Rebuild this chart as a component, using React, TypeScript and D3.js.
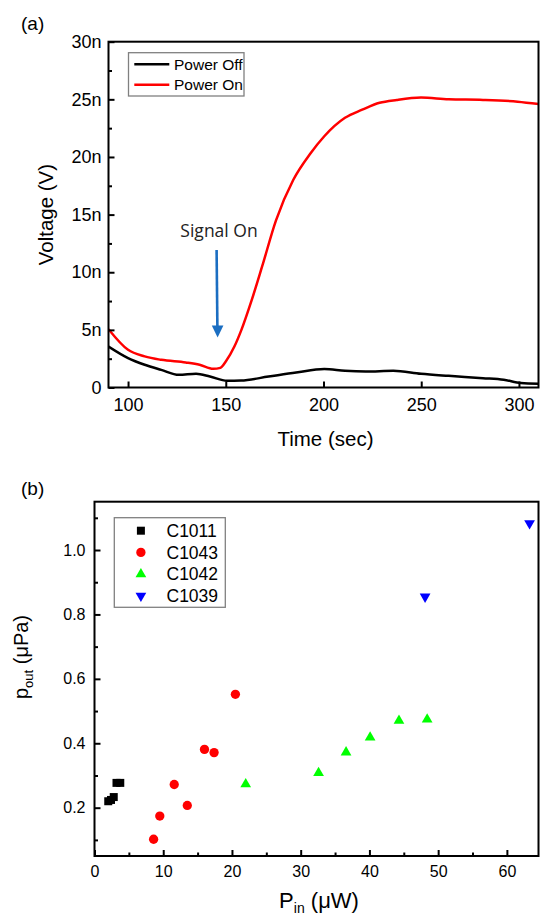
import React, { useEffect, useRef } from 'react';
import * as d3 from 'd3';

// (a) voltage vs time
const timeOff = [90, 100, 108.5, 117, 126, 134.8, 141.9, 150.7, 157.8, 171.9, 186, 200.4, 211, 221.6, 235.7, 249.9, 264, 281.6, 292.2, 301, 310];
const voltOff = [3.55, 2.55, 1.97, 1.53, 1.1, 1.19, 0.95, 0.58, 0.6, 0.95, 1.3, 1.6, 1.45, 1.39, 1.45, 1.19, 1.01, 0.81, 0.67, 0.38, 0.32];
const timeOn = [90, 100, 108.5, 117, 129.5, 136.6, 143.6, 147.2, 150, 154.4, 158, 163.3, 168.6, 175.7, 184.5, 193.3, 200.4, 211, 219.8, 228.7, 237.5, 249.9, 264, 281.6, 299.3, 310];
const voltOn = [5.06, 3.27, 2.7, 2.4, 2.17, 1.97, 1.62, 1.7, 2.25, 3.55, 5.0, 7.6, 10.5, 14.5, 18.0, 20.3, 21.8, 23.4, 24.1, 24.7, 24.95, 25.15, 25.0, 24.95, 24.8, 24.6];
const timeTicks = [100, 150, 200, 250, 300];
const voltTicks = [0, 5, 10, 15, 20, 25, 30];
const voltMinor = [2.5, 7.5, 12.5, 17.5, 22.5, 27.5];
const legendA = ['Power Off', 'Power On'];

// (b) output pressure vs input power
const seriesNames = ['C1011', 'C1043', 'C1042', 'C1039'];
const c1011X = [2.0, 2.4, 2.8, 3.2, 3.75];
const c1011Y = [0.22, 0.224, 0.233, 0.277, 0.277];
const c1043X = [8.6, 9.5, 11.6, 13.5, 16.0, 17.4, 20.5];
const c1043Y = [0.102, 0.174, 0.272, 0.207, 0.381, 0.371, 0.552];
const c1042X = [22.0, 32.6, 36.6, 40.1, 44.3, 48.4];
const c1042Y = [0.273, 0.308, 0.372, 0.418, 0.47, 0.474];
const c1039X = [48.1, 63.3];
const c1039Y = [0.855, 1.083];
const pinTicks = [0, 10, 20, 30, 40, 50, 60];
const pinMinor = [5, 15, 25, 35, 45, 55];
const poutTicks = [0.2, 0.4, 0.6, 0.8, 1.0];
const poutMinor = [0.1, 0.3, 0.5, 0.7, 0.9, 1.1];

const FONT = '"Liberation Sans", Arial, Helvetica, sans-serif';

const styleAxis = (g, fontSize) => {
  g.select('.domain').remove();
  g.selectAll('line').attr('stroke', '#000').attr('stroke-width', 2);
  g.selectAll('text').attr('font-family', FONT).attr('font-size', fontSize).attr('fill', '#000');
};

const drawTop = (svg) => {
  const x = d3.scaleLinear().domain([90, 310]).range([108.5, 538.5]);
  const y = d3.scaleLinear().domain([0, 30]).range([387.5, 41.7]);
  const [x0, x1] = x.range();
  const [y0, y1] = y.range();

  svg.append('text')
    .attr('x', 21).attr('y', 30)
    .attr('font-family', FONT).attr('font-size', 19)
    .text('(a)');

  svg.append('clipPath').attr('id', 'clipA')
    .append('rect').attr('x', x0).attr('y', y1).attr('width', x1 - x0).attr('height', y0 - y1);

  const line = d3.line().x(d => x(d[0])).y(d => y(d[1])).curve(d3.curveMonotoneX);
  const curves = svg.append('g').attr('clip-path', 'url(#clipA)');
  curves.append('path')
    .attr('d', line(timeOff.map((t, i) => [t, voltOff[i]])))
    .attr('fill', 'none').attr('stroke', '#000').attr('stroke-width', 2.5);
  curves.append('path')
    .attr('d', line(timeOn.map((t, i) => [t, voltOn[i]])))
    .attr('fill', 'none').attr('stroke', '#ff0000').attr('stroke-width', 2.5);

  // axes, ticks pointing inwards
  svg.append('g')
    .attr('transform', `translate(0,${y0})`)
    .call(d3.axisBottom(x).tickValues(timeTicks).tickSize(-6).tickPadding(11))
    .call(g => styleAxis(g, 18));
  svg.append('g')
    .attr('transform', `translate(${x0},0)`)
    .call(d3.axisLeft(y).tickValues(voltTicks).tickSize(-6).tickPadding(7)
      .tickFormat(d => (d === 0 ? '0' : `${d}n`)))
    .call(g => styleAxis(g, 18));
  svg.append('g')
    .attr('transform', `translate(${x0},0)`)
    .call(d3.axisLeft(y).tickValues(voltMinor).tickSize(-3.5).tickFormat(() => ''))
    .call(g => styleAxis(g, 18));

  svg.append('rect')
    .attr('x', x0).attr('y', y1).attr('width', x1 - x0).attr('height', y0 - y1)
    .attr('fill', 'none').attr('stroke', '#000').attr('stroke-width', 2);

  svg.append('text')
    .attr('x', (x0 + x1) / 2 + 2).attr('y', 446)
    .attr('text-anchor', 'middle')
    .attr('font-family', FONT).attr('font-size', 20.5)
    .text('Time (sec)');
  svg.append('text')
    .attr('transform', `translate(53,${(y0 + y1) / 2}) rotate(-90)`)
    .attr('text-anchor', 'middle')
    .attr('font-family', FONT).attr('font-size', 20.5)
    .text('Voltage (V)');

  // legend
  const leg = svg.append('g');
  leg.append('rect')
    .attr('x', 128.5).attr('y', 52.7).attr('width', 115.5).attr('height', 43.3)
    .attr('fill', '#fff').attr('stroke', '#808080').attr('stroke-width', 1.3);
  const legColors = ['#000', '#ff0000'];
  legendA.forEach((name, i) => {
    const ly = 64.3 + i * 20.5;
    leg.append('line')
      .attr('x1', 134.3).attr('x2', 169.3).attr('y1', ly).attr('y2', ly)
      .attr('stroke', legColors[i]).attr('stroke-width', 2.5);
    leg.append('text')
      .attr('x', 174).attr('y', ly + 5.5)
      .attr('font-family', FONT).attr('font-size', 15.5)
      .text(name);
  });

  // annotation
  svg.append('text')
    .attr('x', 219).attr('y', 236.5)
    .attr('text-anchor', 'middle')
    .attr('font-family', '"Open Sans", "Noto Sans", sans-serif').attr('font-size', 17.5)
    .attr('fill', '#222')
    .text('Signal On');
  const blue = '#1b6ec2';
  svg.append('line')
    .attr('x1', 216.6).attr('y1', 250).attr('x2', 217.4).attr('y2', 328)
    .attr('stroke', blue).attr('stroke-width', 2.6);
  svg.append('path')
    .attr('d', 'M211.8,325.5 L223.4,325.5 L217.6,337.5 Z')
    .attr('fill', blue);
};

const drawBottom = (svg) => {
  const x = d3.scaleLinear().domain([0, 64.6]).range([94.5, 538.5]);
  const y = d3.scaleLinear().domain([0.05, 1.15]).range([856, 501.7]);
  const [x0, x1] = x.range();
  const [y0, y1] = y.range();

  svg.append('text')
    .attr('x', 21).attr('y', 495)
    .attr('font-family', FONT).attr('font-size', 19)
    .text('(b)');

  svg.append('g')
    .attr('transform', `translate(0,${y0})`)
    .call(d3.axisBottom(x).tickValues(pinTicks).tickSize(-6).tickPadding(10))
    .call(g => styleAxis(g, 16));
  svg.append('g')
    .attr('transform', `translate(0,${y0})`)
    .call(d3.axisBottom(x).tickValues(pinMinor).tickSize(-3.5).tickFormat(() => ''))
    .call(g => styleAxis(g, 16));
  svg.append('g')
    .attr('transform', `translate(${x0},0)`)
    .call(d3.axisLeft(y).tickValues(poutTicks).tickSize(-6).tickPadding(9).tickFormat(d3.format('.1f')))
    .call(g => styleAxis(g, 16));
  svg.append('g')
    .attr('transform', `translate(${x0},0)`)
    .call(d3.axisLeft(y).tickValues(poutMinor).tickSize(-3.5).tickFormat(() => ''))
    .call(g => styleAxis(g, 16));

  svg.append('rect')
    .attr('x', x0).attr('y', y1).attr('width', x1 - x0).attr('height', y0 - y1)
    .attr('fill', 'none').attr('stroke', '#000').attr('stroke-width', 2);

  const symbols = [
    d3.symbol().type(d3.symbolSquare).size(64),
    d3.symbol().type(d3.symbolCircle).size(68),
    d3.symbol().type(d3.symbolTriangle).size(50),
    d3.symbol().type(d3.symbolTriangle).size(50),
  ];
  const colors = ['#000000', '#ff0000', '#00ff00', '#0000ff'];
  const rotations = [0, 0, 0, 180];
  const xs = [c1011X, c1043X, c1042X, c1039X];
  const ys = [c1011Y, c1043Y, c1042Y, c1039Y];

  seriesNames.forEach((name, s) => {
    svg.append('g')
      .selectAll('path')
      .data(xs[s].map((v, i) => [v, ys[s][i]]))
      .join('path')
      .attr('d', symbols[s]())
      .attr('transform', d => `translate(${x(d[0])},${y(d[1])}) rotate(${rotations[s]})`)
      .attr('fill', colors[s]);
  });

  // legend
  const leg = svg.append('g');
  leg.append('rect')
    .attr('x', 114.3).attr('y', 517.7).attr('width', 111).attr('height', 89.6)
    .attr('fill', 'none').attr('stroke', '#808080').attr('stroke-width', 1.3);
  seriesNames.forEach((name, s) => {
    const ly = 530.7 + s * 21.7;
    leg.append('path')
      .attr('d', symbols[s]())
      .attr('transform', `translate(140.9,${ly}) rotate(${rotations[s]})`)
      .attr('fill', colors[s]);
    leg.append('text')
      .attr('x', 166.5).attr('y', ly + 6.3)
      .attr('font-family', FONT).attr('font-size', 17.5)
      .text(name);
  });

  // axis titles with subscripts
  const xt = svg.append('text')
    .attr('x', 319).attr('y', 908)
    .attr('text-anchor', 'middle')
    .attr('font-family', FONT).attr('font-size', 22);
  xt.append('tspan').text('P');
  xt.append('tspan').attr('font-size', 14).attr('dy', 5).text('in');
  xt.append('tspan').attr('dy', -5).text(' (\u03bcW)');

  const yt = svg.append('text')
    .attr('transform', `translate(28,657) rotate(-90)`)
    .attr('text-anchor', 'middle')
    .attr('font-family', FONT).attr('font-size', 20);
  yt.append('tspan').text('p');
  yt.append('tspan').attr('font-size', 13).attr('dy', 5).text('out');
  yt.append('tspan').attr('dy', -5).text(' (\u03bcPa)');
};

const App = () => {
  const ref = useRef(null);
  useEffect(() => {
    document.body.style.margin = '0';
    const svg = d3.select(ref.current);
    svg.selectAll('*').remove();
    drawTop(svg);
    drawBottom(svg);
  }, []);

  return <svg ref={ref} width={540} height={918} style={{ display: 'block', background: '#fff' }} />;
};

export default App;
